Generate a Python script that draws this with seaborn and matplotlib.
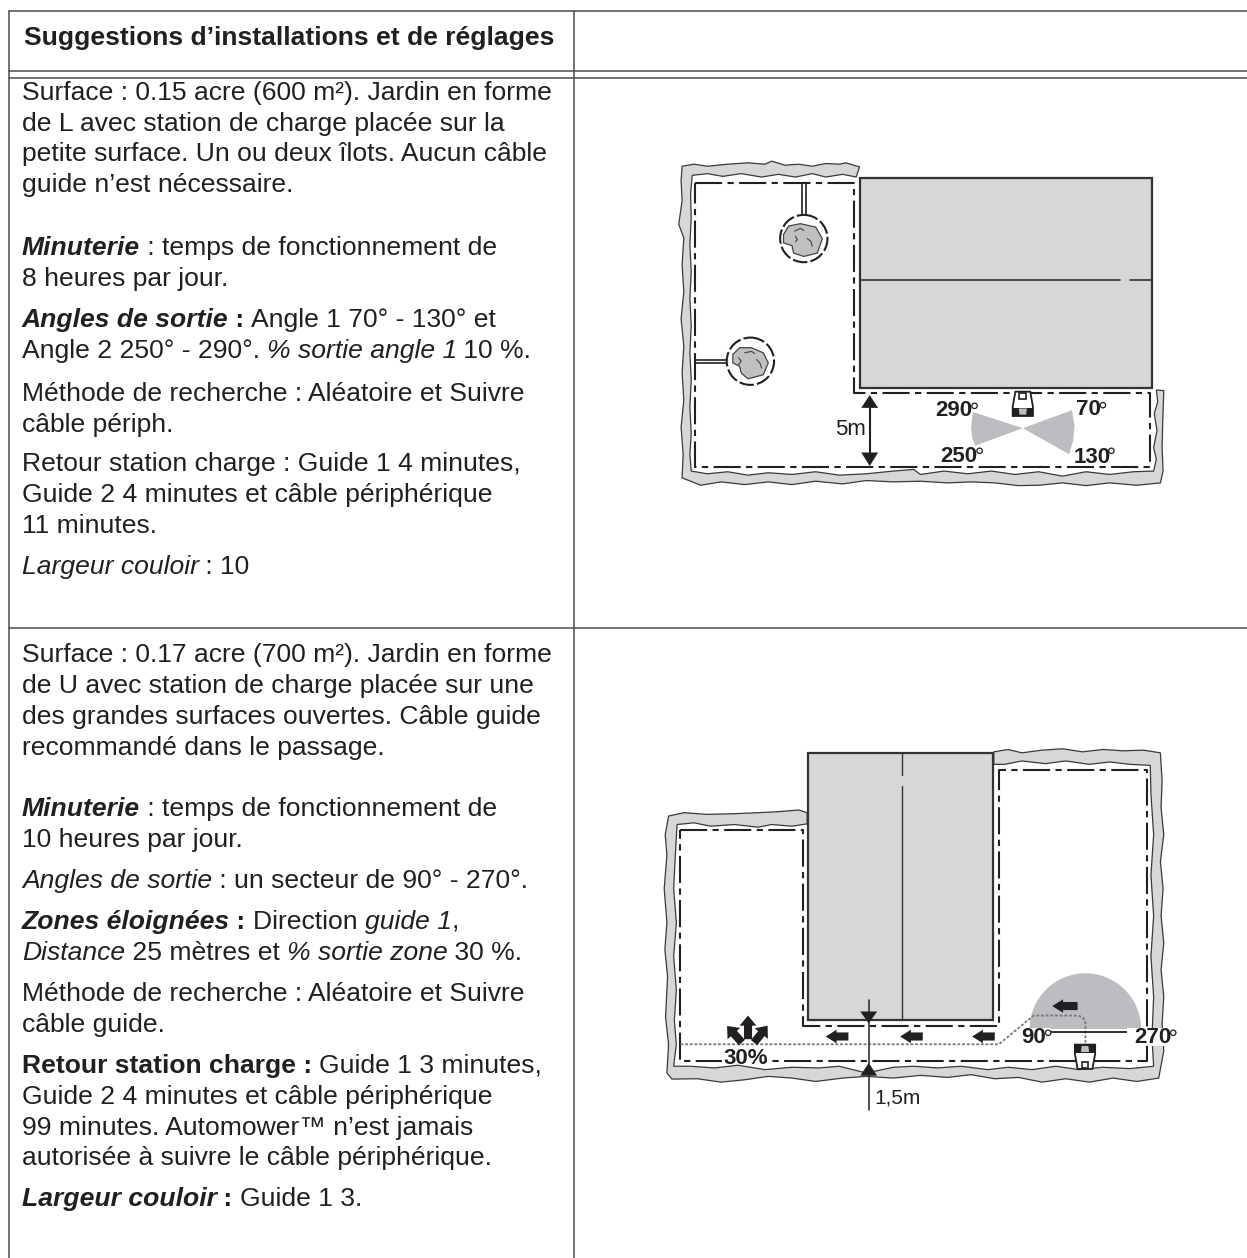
import matplotlib
matplotlib.use("Agg")
import matplotlib.pyplot as plt
import seaborn as sns
from matplotlib.font_manager import FontProperties
from matplotlib.patches import Circle, Polygon, Rectangle, Wedge
from matplotlib.textpath import text_to_path

# --- table text: (text, style) runs per line, with the baseline ---
HEADER = "Suggestions d’installations et de réglages"
ROW1_LINES = [
    [("Surface : 0.15 acre (600 m²). Jardin en forme", "r")],
    [("de L avec station de charge placée sur la", "r")],
    [("petite surface. Un ou deux îlots. Aucun câble", "r")],
    [("guide n’est nécessaire.", "r")],
    [("Minuterie", "bi"), (" : temps de fonctionnement de", "r")],
    [("8 heures par jour.", "r")],
    [("Angles de sortie", "bi"), (" : ", "b"), ("Angle 1 70° - 130° et", "r")],
    [("Angle 2 250° - 290°. ", "r"), ("% sortie angle 1", "i"), (" 10 %.", "r")],
    [("Méthode de recherche : Aléatoire et Suivre", "r")],
    [("câble périph.", "r")],
    [("Retour station charge : Guide 1 4 minutes,", "r")],
    [("Guide 2 4 minutes et câble périphérique", "r")],
    [("11 minutes.", "r")],
    [("Largeur couloir", "i"), (" : 10", "r")],
]
ROW1_BASELINES = [100, 131, 161, 192, 255, 286, 327, 358, 401, 432, 471, 502, 533, 574]
ROW2_LINES = [
    [("Surface : 0.17 acre (700 m²). Jardin en forme", "r")],
    [("de U avec station de charge placée sur une", "r")],
    [("des grandes surfaces ouvertes. Câble guide", "r")],
    [("recommandé dans le passage.", "r")],
    [("Minuterie", "bi"), (" : temps de fonctionnement de", "r")],
    [("10 heures par jour.", "r")],
    [("Angles de sortie", "i"), (" : un secteur de 90° - 270°.", "r")],
    [("Zones éloignées", "bi"), (" : ", "b"), ("Direction ", "r"), ("guide 1", "i"), (",", "r")],
    [("Distance", "i"), (" 25 mètres et ", "r"), ("% sortie zone", "i"), (" 30 %.", "r")],
    [("Méthode de recherche : Aléatoire et Suivre", "r")],
    [("câble guide.", "r")],
    [("Retour station charge : ", "b"), ("Guide 1 3 minutes,", "r")],
    [("Guide 2 4 minutes et câble périphérique", "r")],
    [("99 minutes. Automower™ n’est jamais", "r")],
    [("autorisée à suivre le câble périphérique.", "r")],
    [("Largeur couloir", "bi"), (" : ", "b"), ("Guide 1 3.", "r")],
]
ROW2_BASELINES = [662, 693, 724, 755, 816, 847, 888, 929, 960, 1001, 1032, 1073, 1104, 1135, 1165, 1206]

# --- table rules, in page pixels ---
RULE_H_Y = [11, 71, 78, 628]
RULE_V_X = [9, 574]
PAGE_W, PAGE_H = 1247, 1258

# --- first plan (coordinates in a 1568x1006 grid over the crop at 650,150) ---
G1_X = [95, 130, 170, 230, 290, 340, 360, 400, 440, 480, 520, 560, 580, 620, 610,
        570, 520, 480, 430, 380, 330, 270, 215, 170, 125,
        120, 122, 118, 122, 118, 122, 118, 122, 118, 122, 118, 122,
        170, 230, 290, 350, 420, 490, 560, 640, 720, 780, 800, 870, 940, 1010, 1080,
        1150, 1220, 1290, 1360, 1430, 1490, 1498, 1490, 1500, 1492, 1502, 1498, 1520,
        1517, 1515, 1518, 1510, 1440, 1360, 1290, 1220, 1150, 1090, 1020, 950, 880,
        800, 720, 640, 570, 490, 420, 350, 280, 210, 150, 95,
        98, 92, 100, 95, 100, 92, 100, 95, 100, 85, 95, 92]
G1_Y = [48, 42, 48, 42, 38, 42, 33, 45, 42, 48, 40, 42, 38, 50, 80,
        72, 80, 70, 80, 72, 80, 70, 78, 70, 75,
        130, 200, 280, 360, 440, 520, 600, 680, 760, 840, 900, 950,
        958, 952, 962, 955, 960, 952, 962, 958, 950, 945, 960, 950, 958, 950, 960,
        952, 965, 952, 960, 952, 950, 915, 880, 830, 780, 745, 710, 712,
        800, 880, 950, 985, 992, 985, 993, 985, 992, 993, 985, 982, 985,
        980, 982, 978, 988, 980, 990, 982, 990, 982, 992, 970,
        900, 820, 740, 660, 580, 500, 420, 340, 260, 220, 150, 90]
W1_X = [133, 605, 605, 1480, 1480, 133, 133]
W1_Y = [97, 97, 720, 720, 937, 937, 97]
B1_RECT = [622, 83, 1486, 703]
B1_MID_LEFT = [625, 1390]
B1_MID_RIGHT = [1420, 1486]
B1_MID_Y = 385
ISLAND_A_X = [395, 410, 445, 490, 510, 495, 455, 425, 420, 395]
ISLAND_A_Y = [250, 225, 218, 228, 262, 305, 315, 305, 283, 275]
ISLAND_B_X = [245, 265, 300, 335, 350, 335, 290, 270, 265, 245]
ISLAND_B_Y = [605, 585, 585, 600, 630, 665, 677, 660, 640, 630]
RING_CENTERS = [(455, 262), (297, 625)]
RING_RADIUS = 70
SECTOR_R_X = [1103, 1248, 1256, 1252, 1240]
SECTOR_R_Y = [823, 770, 815, 860, 900]
SECTOR_L_X = [1103, 955, 950, 953, 962]
SECTOR_L_Y = [823, 775, 820, 850, 875]
P1_ANGLES = ["290", "70", "250", "130"]
P1_ANGLE_X = [845, 1260, 860, 1252]
P1_ANGLE_Y = [788, 783, 922, 925]
P1_DEG = [(960, 757), (1340, 755), (975, 890), (1365, 890)]

# --- second plan (1568x1124 grid over the crop at 650,740) ---
G2_X = [1017, 1060, 1100, 1160, 1220, 1280, 1340, 1400, 1460, 1510,
        1515, 1512, 1520, 1510, 1518, 1512, 1520, 1512, 1520, 1515, 1520, 1505,
        1440, 1370, 1300, 1230, 1160, 1090, 1020, 950, 880, 800, 720, 640, 570, 490,
        420, 350, 280, 210, 140, 65, 50,
        55, 46, 52, 44, 50, 42, 50, 45, 55,
        100, 170, 250, 320, 380, 440, 465, 465,
        420, 360, 320, 250, 180, 130, 80,
        75, 70, 78, 70, 78, 72, 78, 70,
        120, 190, 260, 340, 420, 500, 560, 640, 720, 780, 850, 920, 1000, 1060, 1130,
        1200, 1270, 1340, 1420, 1490,
        1485, 1490, 1482, 1490, 1482, 1490, 1482, 1480,
        1420, 1360, 1300, 1230, 1170, 1100, 1050, 1017]
G2_Y = [35, 28, 38, 30, 26, 35, 28, 32, 30, 38,
        120, 200, 280, 360, 440, 520, 600, 680, 760, 840, 920, 1000,
        1010, 1000, 1012, 1002, 1012, 998, 1002, 990, 998, 992, 1000, 995, 1000, 1010,
        1000, 995, 1005, 1012, 1002, 1003, 985,
        900, 820, 700, 620, 540, 440, 340, 280, 225,
        215, 220, 218, 215, 212, 207, 215, 248,
        255, 250, 258, 250, 255, 245, 250,
        340, 440, 540, 640, 740, 830, 900, 965,
        965, 970, 962, 975, 968, 970, 965, 985, 968, 965, 970, 965, 975, 968, 975,
        965, 975, 968, 972, 965,
        880, 760, 640, 520, 400, 280, 160, 75,
        72, 65, 72, 62, 70, 62, 72, 72]
W2_X = [90, 452, 452, 1032, 1032, 1470, 1470, 90, 90]
W2_Y = [265, 265, 845, 845, 88, 88, 950, 950, 265]
B2_RECT = [467, 37, 1015, 828]
GUIDE_X = [90, 1032, 1135, 1265, 1280, 1288, 1288]
GUIDE_Y = [900, 900, 815, 815, 820, 832, 895]
ARROW_ROW_TAILS = [587, 807, 1020, 1265]
ARROW_ROW_TIPS = [520, 740, 953, 1190]
ARROW_ROW_Y = [877, 877, 877, 787]
FAN_TAILS = [(290, 885), (272, 895), (308, 895)]
FAN_TIPS = [(290, 815), (228, 846), (348, 845)]
SECTOR_CENTER = (1288, 855)
SECTOR_RADIUS = 165
P2_DEG = [(1178, 866), (1548, 866)]
# white knock-outs behind the labels: x, y, w, h
P2_MASKS = [(212, 915, 130, 42), (1095, 852, 90, 52), (1410, 852, 150, 52)]

INK = "#231f20"
RULE = "#4d4d4d"
SAND = "#d6d7d9"
SECTOR = "#bcbdc0"
FONT = "Liberation Sans"
BODY_PT = 19.05
LABEL_PT = 16
DPI = 100
STYLES = {"r": ("normal", "normal"), "b": ("normal", "bold"),
          "i": ("italic", "normal"), "bi": ("italic", "bold")}


def run_width(text, size, style, weight):
    prop = FontProperties(family=FONT, size=size, style=style, weight=weight)
    w, _, _ = text_to_path.get_text_width_height_descent("x" + text + "x", prop, False)
    w0, _, _ = text_to_path.get_text_width_height_descent("xx", prop, False)
    return (w - w0) * DPI / 72


def draw_runs(ax, x, y, runs, size=BODY_PT):
    for text, key in runs:
        style, weight = STYLES[key]
        ax.text(x, y, text, family=FONT, size=size, style=style, weight=weight,
                color=INK, va="baseline", ha="left")
        x += run_width(text, size, style, weight)


def line(ax, xs, ys, color=INK, lw=1.5, **kw):
    sns.lineplot(x=xs, y=ys, ax=ax, sort=False, estimator=None, color=color,
                 linewidth=lw, legend=False, **kw)


def plan_axes(left, top, w, h):
    ax = fig.add_axes([left / PAGE_W, 1 - (top + h) / PAGE_H, w / PAGE_W, h / PAGE_H])
    ax.set_facecolor("none")
    return ax


def finish(ax, grid_w, grid_h):
    ax.set_xlim(0, grid_w)
    ax.set_ylim(grid_h, 0)
    ax.axis("off")


def triangle(ax, pts):
    ax.add_patch(Polygon(pts, closed=True, facecolor=INK, edgecolor="none", zorder=5))


def degree(ax, center):
    ax.add_patch(Circle(center, 8, fill=False, edgecolor=INK, lw=0.9, zorder=7))


def robot(ax, x0, y0, flip=False):
    # body, dark band and the small window, flipped for the second plan
    sy = -1 if flip else 1
    body = [(x0 + 8, y0), (x0 + 52, y0), (x0 + 60, y0 + sy * 45), (x0 + 60, y0 + sy * 72),
            (x0, y0 + sy * 72), (x0, y0 + sy * 45)]
    band = [(x0, y0 + sy * 48), (x0 + 60, y0 + sy * 48), (x0 + 60, y0 + sy * 72), (x0, y0 + sy * 72)]
    ax.add_patch(Polygon(body, closed=True, facecolor="white", edgecolor=INK, lw=1.3, zorder=6))
    ax.add_patch(Polygon(band, closed=True, facecolor=INK, edgecolor="none", zorder=7))
    ax.add_patch(Polygon([(x0 + 18, y0 + sy * 50), (x0 + 42, y0 + sy * 50),
                          (x0 + 40, y0 + sy * 68), (x0 + 20, y0 + sy * 68)],
                         closed=True, facecolor="#bcbdc0", edgecolor="none", zorder=8))
    ax.add_patch(Polygon([(x0 + 20, y0 + sy * 3), (x0 + 40, y0 + sy * 3),
                          (x0 + 40, y0 + sy * 22), (x0 + 20, y0 + sy * 22)],
                         closed=True, facecolor="white", edgecolor=INK, lw=1.2, zorder=8))


sns.set_theme(style="white")
plt.rcParams["font.family"] = [FONT, "DejaVu Sans"]
fig = plt.figure(figsize=(PAGE_W / DPI, PAGE_H / DPI), dpi=DPI)

# --- page axes: table rules and text ---
page = fig.add_axes([0, 0, 1, 1])
for y in RULE_H_Y:
    line(page, [RULE_V_X[0], PAGE_W], [y, y], color=RULE, lw=1.1)
for x in RULE_V_X:
    line(page, [x, x], [RULE_H_Y[0], PAGE_H], color=RULE, lw=1.1)
page.text(24, 45, HEADER, family=FONT, size=BODY_PT, weight="bold", color=INK, va="baseline")
for runs, y in zip(ROW1_LINES, ROW1_BASELINES):
    draw_runs(page, 22, y, runs)
for runs, y in zip(ROW2_LINES, ROW2_BASELINES):
    draw_runs(page, 22, y, runs)
finish(page, PAGE_W, PAGE_H)

# --- first plan ---
p1 = plan_axes(650, 150, 530, 340)
p1.fill(G1_X, G1_Y, facecolor=SAND, edgecolor="#3a3a3a", lw=0.9)
x0, y0, x1, y1 = B1_RECT
p1.fill([x0, x1, x1, x0], [y0, y0, y1, y1], facecolor=SAND, edgecolor="#333333", lw=1.6)
line(p1, B1_MID_LEFT, [B1_MID_Y, B1_MID_Y], color="#333333", lw=1.2)
line(p1, B1_MID_RIGHT, [B1_MID_Y, B1_MID_Y], color="#333333", lw=1.2)
line(p1, W1_X, W1_Y, lw=1.5, linestyle=(0, (13, 2.6, 3, 2.6)))
line(p1, [450, 450], [97, 188], lw=1.2)
line(p1, [462, 462], [97, 188], lw=1.2)
line(p1, [133, 225], [620, 620], lw=1.2)
line(p1, [133, 225], [631, 631], lw=1.2)
for center in RING_CENTERS:
    p1.add_patch(Circle(center, RING_RADIUS, fill=False, edgecolor=INK, lw=1.5,
                        linestyle=(0, (7, 1.5))))
p1.fill(ISLAND_A_X, ISLAND_A_Y, facecolor="#bfc0c2", edgecolor="#444444", lw=0.9)
p1.fill(ISLAND_B_X, ISLAND_B_Y, facecolor="#bfc0c2", edgecolor="#444444", lw=0.9)
line(p1, [428, 445, 455], [240, 232, 238], color="#444444", lw=0.8)
line(p1, [430, 436, 430], [255, 265, 272], color="#444444", lw=0.8)
line(p1, [465, 476, 480], [262, 270, 285], color="#444444", lw=0.8)
line(p1, [280, 300, 310], [600, 596, 602], color="#444444", lw=0.8)
line(p1, [262, 270, 262], [615, 625, 635], color="#444444", lw=0.8)
line(p1, [315, 325, 330], [620, 630, 645], color="#444444", lw=0.8)
p1.fill(SECTOR_R_X, SECTOR_R_Y, facecolor=SECTOR, edgecolor="none")
p1.fill(SECTOR_L_X, SECTOR_L_Y, facecolor=SECTOR, edgecolor="none")
robot(p1, 1073, 715)
line(p1, [650, 650], [740, 920], lw=1.5)
triangle(p1, [(625, 763), (675, 763), (650, 725)])
triangle(p1, [(625, 895), (675, 895), (650, 935)])
p1.text(548, 844, "5m", size=LABEL_PT, color=INK, family=FONT, va="baseline")
for label, x, y, deg in zip(P1_ANGLES, P1_ANGLE_X, P1_ANGLE_Y, P1_DEG):
    p1.text(x, y, label, size=LABEL_PT, weight="bold", color=INK, family=FONT, va="baseline")
    degree(p1, deg)
finish(p1, 1568, 1006)

# --- second plan ---
p2 = plan_axes(650, 740, 530, 380)
p2.fill(G2_X, G2_Y, facecolor=SAND, edgecolor="#3a3a3a", lw=0.9)
x0, y0, x1, y1 = B2_RECT
p2.fill([x0, x1, x1, x0], [y0, y0, y1, y1], facecolor=SAND, edgecolor="#333333", lw=1.6)
line(p2, [747, 747], [37, 105], color="#333333", lw=1.0)
line(p2, [747, 747], [135, 828], color="#333333", lw=1.0)
line(p2, W2_X, W2_Y, lw=1.5, linestyle=(0, (13, 2.6, 3, 2.6)))
p2.add_patch(Wedge(SECTOR_CENTER, SECTOR_RADIUS, 180, 360, facecolor=SECTOR, edgecolor="none"))
for mx, my, mw, mh in P2_MASKS:
    p2.add_patch(Rectangle((mx, my), mw, mh, facecolor="white", edgecolor="none", zorder=4))
line(p2, GUIDE_X, GUIDE_Y, color="#77787b", lw=1.3, linestyle=(0, (1.6, 1.0)))
line(p2, [1185, 1410], [865, 865], lw=1.3)
for tail, tip, y in zip(ARROW_ROW_TAILS, ARROW_ROW_TIPS, ARROW_ROW_Y):
    p2.arrow(tail, y, tip - tail, 0, width=24, head_width=40, head_length=32,
             length_includes_head=True, facecolor=INK, edgecolor="none", zorder=5)
for (tx, ty), (hx, hy) in zip(FAN_TAILS, FAN_TIPS):
    p2.arrow(tx, ty, hx - tx, hy - ty, width=24, head_width=50, head_length=30,
             length_includes_head=True, facecolor=INK, edgecolor="none", zorder=5)
robot(p2, 1257, 973, flip=True)
line(p2, [647, 647], [770, 1093], lw=1.2, color="#333333")
triangle(p2, [(622, 803), (672, 803), (647, 838)])
triangle(p2, [(622, 993), (672, 993), (647, 955)])
p2.text(665, 1075, "1,5m", size=15, color=INK, family=FONT, va="baseline")
p2.text(217, 957, "30%", size=LABEL_PT, weight="bold", color=INK, family=FONT, va="baseline", zorder=6)
p2.text(1098, 897, "90", size=LABEL_PT, weight="bold", color=INK, family=FONT, va="baseline", zorder=6)
p2.text(1433, 897, "270", size=LABEL_PT, weight="bold", color=INK, family=FONT, va="baseline", zorder=6)
for deg in P2_DEG:
    degree(p2, deg)
finish(p2, 1568, 1124)

fig.savefig("out.png", dpi=DPI)
